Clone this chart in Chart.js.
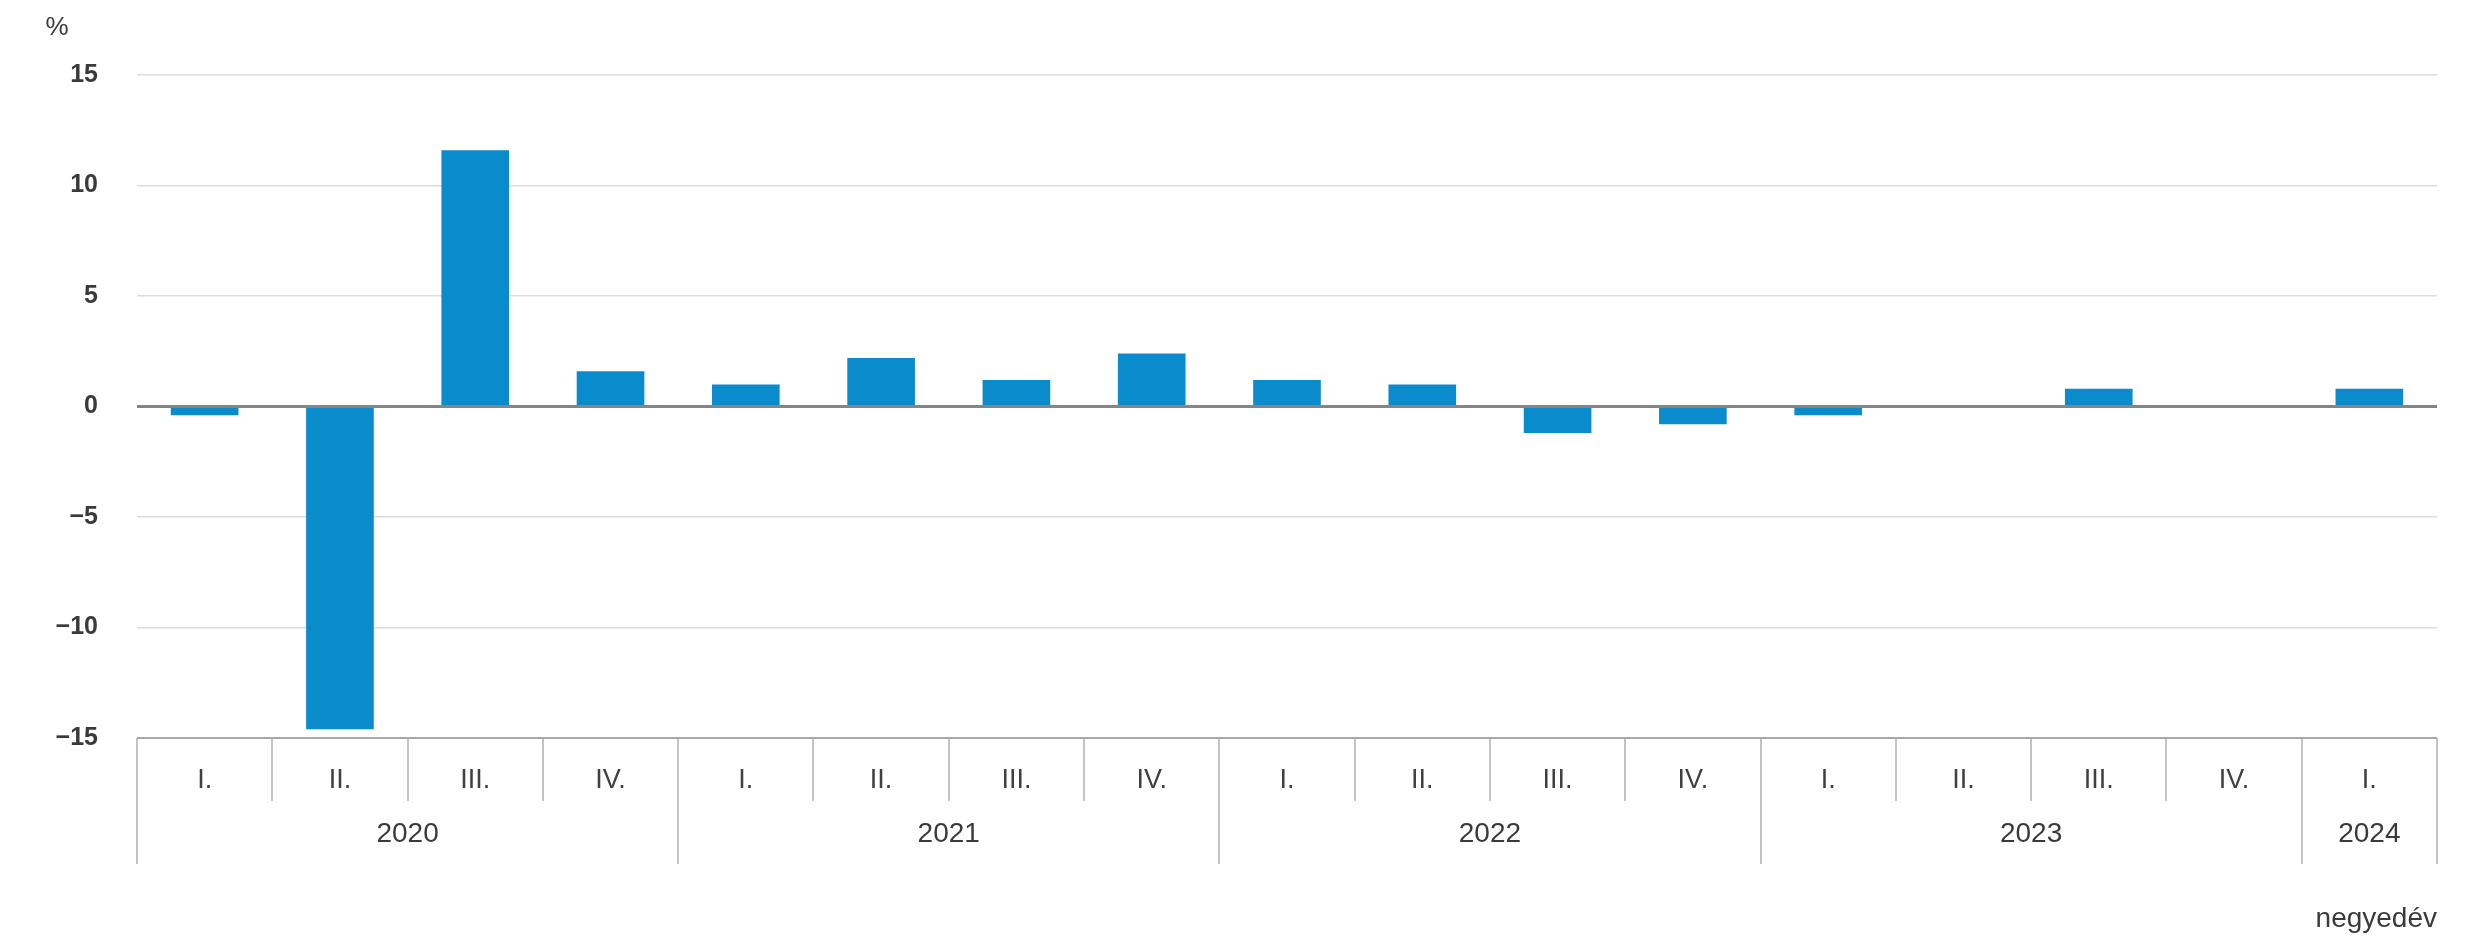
<!DOCTYPE html>
<html>
<head>
<meta charset="utf-8">
<script src="https://cdn.jsdelivr.net/npm/chart.js@4.4.1/dist/chart.umd.min.js"></script>
<style>
  html, body { margin: 0; padding: 0; background: #ffffff; }
  #wrap { width: 2473px; height: 945px; position: relative; }
</style>
</head>
<body>
<div id="wrap"><canvas id="c" width="2473" height="945"></canvas></div>
<script>
const quarterLabels = ['I.','II.','III.','IV.','I.','II.','III.','IV.','I.','II.','III.','IV.','I.','II.','III.','IV.','I.'];
const yearLabels = ['2020','2021','2022','2023','2024'];
const yearSpans = [4, 4, 4, 4, 1];
const values = [-0.4, -14.6, 11.6, 1.6, 1.0, 2.2, 1.2, 2.4, 1.2, 1.0, -1.2, -0.8, -0.4, 0.0, 0.8, 0.0, 0.8];
const yTicks = [-15, -10, -5, 0, 5, 10, 15];
const yUnit = '%';
const xUnit = 'negyedév';

const PLOT_LEFT = 137, PLOT_RIGHT = 2437, PLOT_TOP = 75, PLOT_BOTTOM = 738;
const W = 2473, H = 945;
const FONT = '"Liberation Sans", Arial, sans-serif';

const groupPlugin = {
  id: 'groupAxis',
  afterDatasetsDraw(chart) {
    const ctx = chart.ctx;
    const ys = chart.scales.y;
    const y0 = ys.getPixelForValue(0);
    ctx.save();
    ctx.strokeStyle = '#858585';
    ctx.lineWidth = 3;
    ctx.beginPath();
    ctx.moveTo(chart.chartArea.left, y0);
    ctx.lineTo(chart.chartArea.right, y0);
    ctx.stroke();
    ctx.restore();
  },
  afterDraw(chart) {
    const ctx = chart.ctx;
    const xs = chart.scales.x;
    const half = (xs.getPixelForValue(1) - xs.getPixelForValue(0)) / 2;
    const axisY = chart.chartArea.bottom;
    ctx.save();
    let idx = 0;
    const yearBoundaries = new Set([0]);
    yearSpans.forEach(s => { idx += s; yearBoundaries.add(idx); });
    for (let i = 0; i <= quarterLabels.length; i++) {
      const x = i < quarterLabels.length ? xs.getPixelForValue(i) - half : xs.getPixelForValue(i - 1) + half;
      const isYear = yearBoundaries.has(i);
      ctx.strokeStyle = '#c4c4c4';
      ctx.lineWidth = 2;
      ctx.beginPath();
      ctx.moveTo(Math.round(x), axisY);
      ctx.lineTo(Math.round(x), isYear ? axisY + 126 : axisY + 63);
      ctx.stroke();
    }
    ctx.fillStyle = '#3a3a3a';
    ctx.font = '28px ' + FONT;
    ctx.textAlign = 'center';
    ctx.textBaseline = 'middle';
    let start = 0;
    yearLabels.forEach((lab, k) => {
      const end = start + yearSpans[k] - 1;
      const x0 = xs.getPixelForValue(start) - half;
      const x1 = xs.getPixelForValue(end) + half;
      ctx.fillText(lab, (x0 + x1) / 2, axisY + 96);
      start += yearSpans[k];
    });
    ctx.strokeStyle = '#a8a8a8';
    ctx.lineWidth = 2;
    ctx.beginPath();
    ctx.moveTo(chart.chartArea.left, axisY);
    ctx.lineTo(chart.chartArea.right, axisY);
    ctx.stroke();
    ctx.font = '26px ' + FONT;
    ctx.fillStyle = '#3a3a3a';
    ctx.textAlign = 'center';
    ctx.fillText(yUnit, 57, 28);
    ctx.textAlign = 'right';
    ctx.font = '28px ' + FONT;
    ctx.fillText(xUnit, chart.chartArea.right, 919);
    ctx.restore();
  }
};

new Chart(document.getElementById('c'), {
  type: 'bar',
  data: {
    labels: quarterLabels,
    datasets: [{
      data: values,
      backgroundColor: '#0a8bcb',
      borderWidth: 0,
      categoryPercentage: 1.0,
      barPercentage: 0.5
    }]
  },
  options: {
    responsive: false,
    animation: false,
    devicePixelRatio: 1,
    layout: { padding: { left: 0, right: W - PLOT_RIGHT, top: PLOT_TOP, bottom: 0 } },
    plugins: { legend: { display: false }, tooltip: { enabled: false }, title: { display: false } },
    scales: {
      x: {
        type: 'category',
        grid: { display: false },
        border: { display: false },
        ticks: {
          color: '#404040',
          font: { family: FONT, size: 27 },
          padding: 18,
          maxRotation: 0,
          autoSkip: false
        },
        afterFit(scale) { scale.height = H - PLOT_BOTTOM; }
      },
      y: {
        min: -15,
        max: 15,
        afterBuildTicks(scale) { scale.ticks = yTicks.map(v => ({ value: v })); },
        grid: {
          drawTicks: false,
          color: ctx => (ctx.tick && (ctx.tick.value === 0 || ctx.tick.value === -15)) ? 'rgba(0,0,0,0)' : '#dcdcdc',
          lineWidth: 1.5
        },
        border: { display: false },
        ticks: {
          color: '#3a3a3a',
          font: { family: FONT, size: 25, weight: 'bold' },
          padding: 39,
          callback: v => (v < 0 ? '\u2212' + Math.abs(v) : String(v))
        },
        afterFit(scale) { scale.width = PLOT_LEFT; }
      }
    }
  },
  plugins: [groupPlugin]
});
</script>
</body>
</html>
